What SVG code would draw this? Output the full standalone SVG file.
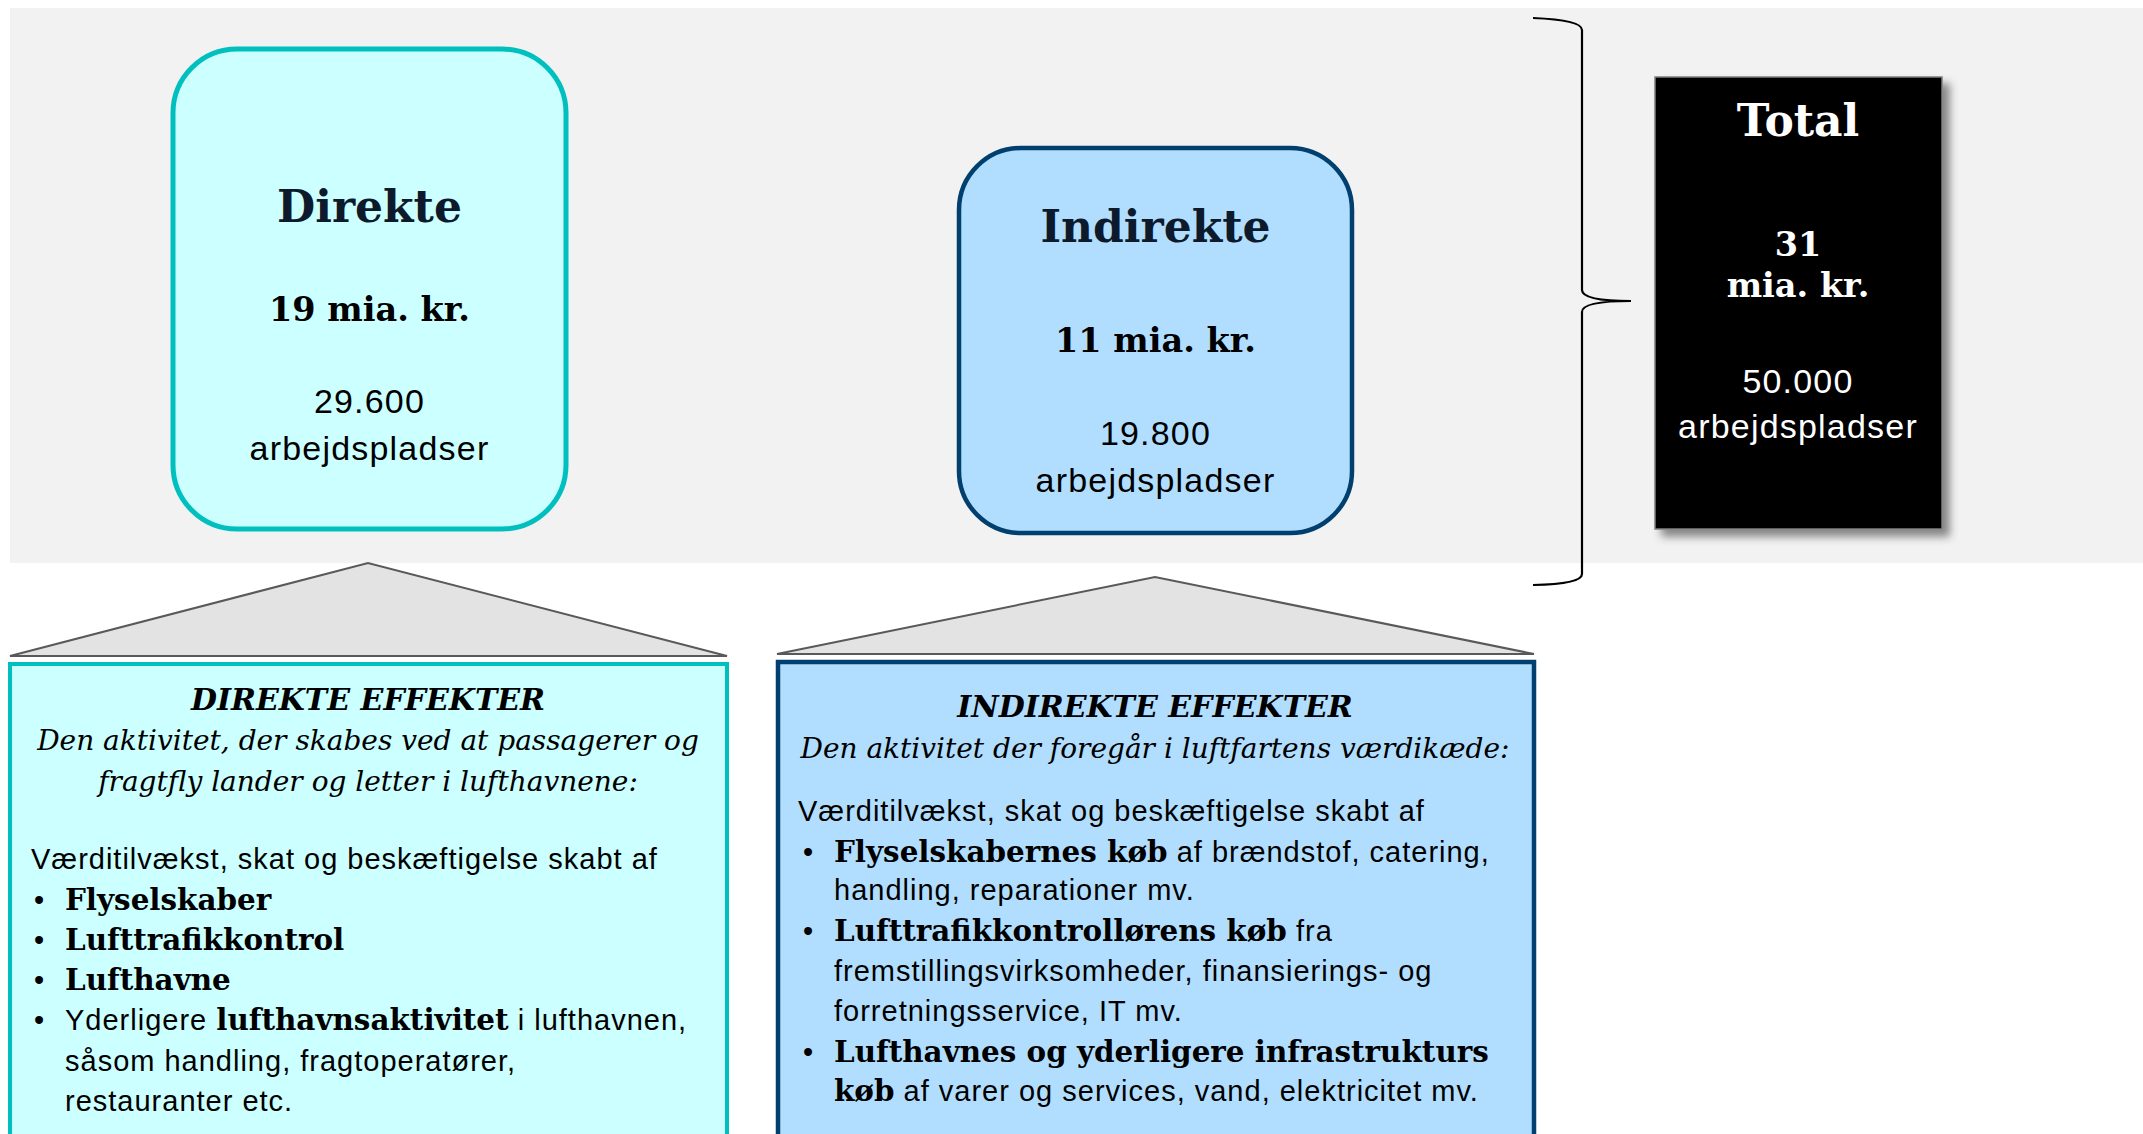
<svg xmlns="http://www.w3.org/2000/svg" width="2143" height="1134" viewBox="0 0 2143 1134">
<defs>
<style>
.hd{font-family:"DejaVu Serif","Liberation Serif",serif;font-weight:bold;font-size:44px;fill:#0d1a2b;text-anchor:middle}
.amt{font-family:"DejaVu Serif","Liberation Serif",serif;font-weight:bold;font-size:33.5px;fill:#000;text-anchor:middle}
.num{font-family:"Liberation Sans",Arial,sans-serif;font-size:34px;letter-spacing:1.2px;fill:#000;text-anchor:middle}
.w{fill:#fff}
.eh{font-family:"DejaVu Serif","Liberation Serif",serif;font-weight:bold;font-style:italic;font-size:30px;fill:#000;text-anchor:middle}
.ei{font-family:"DejaVu Serif","Liberation Serif",serif;font-style:italic;font-size:28px;fill:#000;text-anchor:middle}
.s{font-family:"Liberation Sans",Arial,sans-serif;font-size:29px;letter-spacing:1px;fill:#000}
.b{font-family:"DejaVu Serif","Liberation Serif",serif;font-weight:bold;font-size:29.4px;letter-spacing:0}
.roof{fill:#e3e3e3;stroke:#595959;stroke-width:2}
</style>
<filter id="sh" x="-10%" y="-10%" width="130%" height="130%">
<feDropShadow dx="7" dy="7" stdDeviation="4" flood-color="#000" flood-opacity="0.45"/>
</filter>
</defs>
<rect id="background" x="10" y="8" width="2133" height="555" fill="#f2f2f2"/>

<g id="connectors">
<polygon class="roof" points="10,656 368,563 727,656"/>
<polygon class="roof" points="777,654 1155,577 1534,654"/>
<path d="M1533,18 Q1582,20 1582,30 L1582,290 Q1582,301 1631,301 Q1582,301 1582,312 L1582,574 Q1582,584 1533,585" fill="none" stroke="#000" stroke-width="2.2"/>
</g>

<g id="node-direkte">
<rect x="173" y="49" width="393" height="480" rx="64" ry="64" fill="#ccffff" stroke="#00bfbf" stroke-width="5"/>
<text class="hd" x="369.5" y="222">Direkte</text>
<text class="amt" x="369.5" y="321">19 mia. kr.</text>
<text class="num" x="369.5" y="413">29.600</text>
<text class="num" x="369.5" y="460">arbejdspladser</text>
</g>

<g id="node-indirekte">
<rect x="959" y="148" width="393" height="385" rx="62" ry="62" fill="#b1deff" stroke="#003f6e" stroke-width="4.5"/>
<text class="hd" x="1155.5" y="242">Indirekte</text>
<text class="amt" x="1155.5" y="352">11 mia. kr.</text>
<text class="num" x="1155.5" y="445">19.800</text>
<text class="num" x="1155.5" y="492">arbejdspladser</text>
</g>

<g id="node-total">
<rect x="1655" y="77" width="287" height="452" fill="#000" stroke="#7f7f7f" stroke-width="1.5" filter="url(#sh)"/>
<text class="hd w" x="1798" y="136">Total</text>
<text class="amt w" x="1798" y="256">31</text>
<text class="amt w" x="1798" y="297">mia. kr.</text>
<text class="num w" x="1798" y="393">50.000</text>
<text class="num w" x="1798" y="438">arbejdspladser</text>
</g>

<g id="node-direkte-effekter">
<rect x="10" y="664" width="717" height="480" fill="#ccffff" stroke="#00bfbf" stroke-width="4"/>
<text class="eh" x="368" y="710">DIREKTE EFFEKTER</text>
<text class="ei" x="368" y="750">Den aktivitet, der skabes ved at passagerer og</text>
<text class="ei" x="368" y="791">fragtfly lander og letter i lufthavnene:</text>
<text class="s" x="31" y="869">Værditilvækst, skat og beskæftigelse skabt af</text>
<text class="s" x="34" y="910">•</text><text class="s b" x="65" y="910">Flyselskaber</text>
<text class="s" x="34" y="950">•</text><text class="s b" x="65" y="950">Lufttrafikkontrol</text>
<text class="s" x="34" y="990">•</text><text class="s b" x="65" y="990">Lufthavne</text>
<text class="s" x="34" y="1030">•</text><text class="s" x="65" y="1030">Yderligere <tspan class="b">lufthavnsaktivitet</tspan> i lufthavnen,</text>
<text class="s" x="65" y="1071">såsom handling, fragtoperatører,</text>
<text class="s" x="65" y="1111">restauranter etc.</text>
</g>

<g id="node-indirekte-effekter">
<rect x="778" y="662" width="756" height="480" fill="#b1deff" stroke="#003f6e" stroke-width="4.5"/>
<text class="eh" x="1155" y="717">INDIREKTE EFFEKTER</text>
<text class="ei" x="1155" y="758">Den aktivitet der foregår i luftfartens værdikæde:</text>
<text class="s" x="798" y="821">Værditilvækst, skat og beskæftigelse skabt af</text>
<text class="s" x="803" y="862">•</text><text class="s" x="834" y="862"><tspan class="b">Flyselskabernes køb</tspan> af brændstof, catering,</text>
<text class="s" x="834" y="900">handling, reparationer mv.</text>
<text class="s" x="803" y="941">•</text><text class="s" x="834" y="941"><tspan class="b">Lufttrafikkontrollørens køb</tspan> fra</text>
<text class="s" x="834" y="981">fremstillingsvirksomheder, finansierings- og</text>
<text class="s" x="834" y="1021">forretningsservice, IT mv.</text>
<text class="s" x="803" y="1062">•</text><text class="s b" x="834" y="1062">Lufthavnes og yderligere infrastrukturs</text>
<text class="s" x="834" y="1101"><tspan class="b">køb</tspan> af varer og services, vand, elektricitet mv.</text>
</g>
</svg>
